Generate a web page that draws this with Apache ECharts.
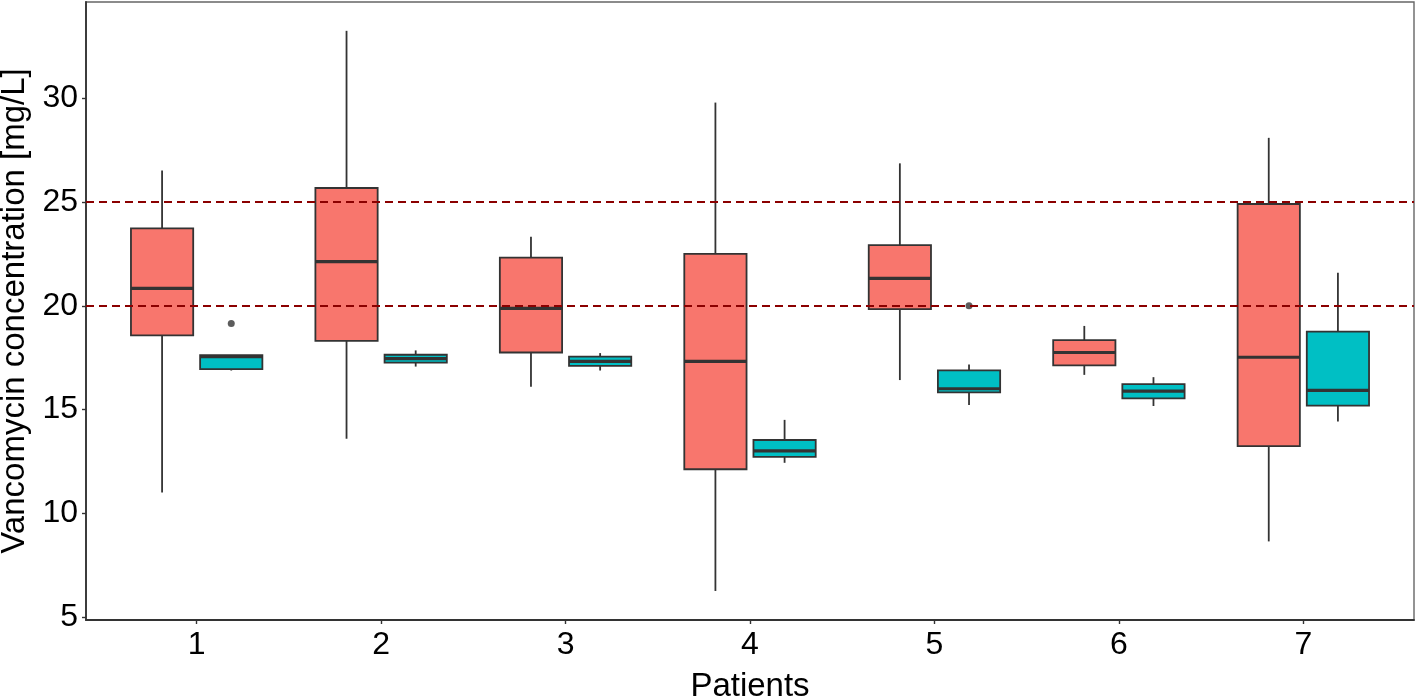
<!DOCTYPE html>
<html>
<head>
<meta charset="utf-8">
<script src="https://cdn.jsdelivr.net/npm/echarts@6/dist/echarts.min.js"></script>
<style>html,body{margin:0;padding:0;background:#fff}#c{width:1416px;height:700px}</style>
</head>
<body>
<div id="c"></div>
<script>
// Categories (patients)
const patients = [1, 2, 3, 4, 5, 6, 7];
// Group A (red) boxplot stats: [low whisker, Q1, median, Q3, high whisker]
const groupA = [
  [11.0, 18.57, 20.84, 23.73, 26.53],
  [13.59, 18.31, 22.13, 25.68, 33.26],
  [16.10, 17.75, 19.88, 22.32, 23.33],
  [6.25, 12.12, 17.32, 22.50, 29.80],
  [16.42, 19.84, 21.32, 22.93, 26.87],
  [16.67, 17.13, 17.75, 18.35, 19.03],
  [8.64, 13.23, 17.52, 24.91, 28.10]
];
// Group B (teal) boxplot stats
const groupB = [
  [16.88, 16.95, 17.55, 17.62, 17.62],
  [17.07, 17.26, 17.45, 17.64, 17.85],
  [16.88, 17.10, 17.32, 17.55, 17.72],
  [12.43, 12.72, 13.01, 13.53, 14.50],
  [15.22, 15.83, 16.00, 16.89, 17.17],
  [15.17, 15.54, 15.89, 16.22, 16.56],
  [14.42, 15.19, 15.92, 18.76, 21.60]
];
// Outliers: [patient, value]
const outliersA = [];
const outliersB = [[1, 19.15], [5, 20.0]];
// Reference lines
const refLines = [20, 25];
// Tick labels
const yTicks = [5, 10, 15, 20, 25, 30];

const DODGE = 0.1875;
const BOXW = 0.3375;

function boxRender(offset, color) {
  return function (params, api) {
    const x = api.value(0) + offset;
    const low = api.value(1), q1 = api.value(2), med = api.value(3), q3 = api.value(4), high = api.value(5);
    const hw = api.size([BOXW, 0])[0] / 2;
    const pHigh = api.coord([x, high]);
    const pQ3 = api.coord([x, q3]);
    const pMed = api.coord([x, med]);
    const pQ1 = api.coord([x, q1]);
    const pLow = api.coord([x, low]);
    const stroke = '#333333';
    return {
      type: 'group',
      children: [
        { type: 'line', shape: { x1: pHigh[0], y1: pHigh[1], x2: pQ3[0], y2: pQ3[1] }, style: { stroke, lineWidth: 1.8 } },
        { type: 'line', shape: { x1: pQ1[0], y1: pQ1[1], x2: pLow[0], y2: pLow[1] }, style: { stroke, lineWidth: 1.8 } },
        { type: 'rect', shape: { x: pQ3[0] - hw, y: pQ3[1], width: hw * 2, height: pQ1[1] - pQ3[1] }, style: { fill: color, stroke, lineWidth: 1.8 } },
        { type: 'line', shape: { x1: pMed[0] - hw, y1: pMed[1], x2: pMed[0] + hw, y2: pMed[1] }, style: { stroke, lineWidth: 3.2 } }
      ]
    };
  };
}

const chart = echarts.init(document.getElementById('c'), null, { renderer: 'canvas' });
chart.setOption({
  animation: false,
  backgroundColor: '#ffffff',
  grid: { left: 86, right: 2, top: 2, bottom: 80, show: true, borderColor: '#666666', borderWidth: 1.4, containLabel: false, outerBoundsMode: 'none' },
  xAxis: {
    type: 'value', min: 0.4, max: 7.6,
    name: 'Patients', nameLocation: 'middle', nameGap: 50,
    nameTextStyle: { fontFamily: 'Liberation Sans', fontSize: 33, color: '#000' },
    axisLine: { show: true, onZero: false, lineStyle: { color: '#333333', width: 1.8 } },
    axisTick: { show: true, length: 4, customValues: patients, lineStyle: { color: '#333333', width: 1.4 } },
    axisLabel: { customValues: patients, fontFamily: 'Liberation Sans', fontSize: 32, color: '#000', margin: 9 },
    splitLine: { show: false }
  },
  yAxis: {
    type: 'value', min: 4.85, max: 34.65,
    name: 'Vancomycin concentration [mg/L]', nameLocation: 'middle', nameGap: 50, nameRotate: 90,
    nameTextStyle: { fontFamily: 'Liberation Sans', fontSize: 33, color: '#000' },
    axisLine: { show: true, onZero: false, lineStyle: { color: '#333333', width: 1.8 } },
    axisTick: { show: true, length: 4, customValues: yTicks, lineStyle: { color: '#333333', width: 1.4 } },
    axisLabel: { customValues: yTicks, fontFamily: 'Liberation Sans', fontSize: 32, color: '#000', margin: 8 },
    splitLine: { show: false }
  },
  series: [
    {
      type: 'custom', name: 'A',
      renderItem: boxRender(-DODGE, '#F8766D'),
      encode: { x: 0, y: [1, 2, 3, 4, 5] },
      data: groupA.map((v, i) => [patients[i]].concat(v)),
      z: 3
    },
    {
      type: 'custom', name: 'B',
      renderItem: boxRender(DODGE, '#00BFC4'),
      encode: { x: 0, y: [1, 2, 3, 4, 5] },
      data: groupB.map((v, i) => [patients[i]].concat(v)),
      z: 3
    },
    {
      type: 'scatter', symbolSize: 7,
      itemStyle: { color: '#333333' },
      data: outliersA.map(d => [d[0] - DODGE, d[1]]).concat(outliersB.map(d => [d[0] + DODGE, d[1]])),
      z: 4
    },
    {
      type: 'line', data: [],
      markLine: {
        silent: true, symbol: 'none', label: { show: false },
        lineStyle: { color: '#8B0000', type: [8, 5], width: 1.8 },
        data: refLines.map(v => ({ yAxis: v }))
      },
      z: 5
    }
  ]
});
</script>
</body>
</html>
